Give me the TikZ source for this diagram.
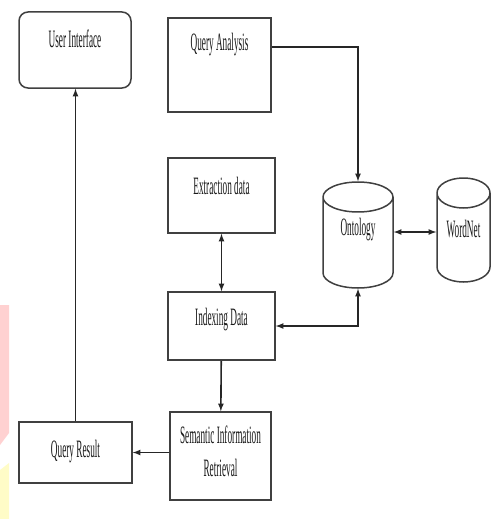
\documentclass[tikz,border=0pt]{standalone}
\usepackage{fontspec}
\setmainfont{Liberation Serif}
\usetikzlibrary{shapes.geometric}

\begin{document}
\begin{tikzpicture}[x=1pt,y=-1pt,
	box/.style={draw=black!75,line width=1.5pt,fill=white},
	txt/.style={anchor=center,font=\fontsize{25}{33}\selectfont,xscale=.37,align=center,text=black!90},
	db/.style={box,cylinder,shape border rotate=90,aspect=4.5,anchor=shape center},
	arr/.style={-latex,line width=1.6pt,black!85},
	dbl/.style={latex-latex,line width=1.6pt,black!85}]
	\useasboundingbox (0,0) rectangle (491,519);

	% marks on the left edge
	\fill[red!18] (0,305) -- (9,305) -- (9,433) -- (0,445) -- cycle;
	\fill[yellow!22] (0,470) -- (9,463) -- (9,519) -- (0,519) -- cycle;

	% boxes
	\node[box,rounded corners=9pt,minimum width=112pt,minimum height=76pt,label={[txt,yshift=-28pt]north:User Interface}] (ui) at (75,50) {};
	\node[box,minimum width=103pt,minimum height=94pt,label={[txt,yshift=-27pt]north:Query Analysis}] (qa) at (219.5,65) {};
	\node[box,minimum width=107pt,minimum height=75pt,label={[txt,yshift=-29pt]north:Extraction data}] (extr) at (221.5,195.5) {};
	\node[box,minimum width=107pt,minimum height=68pt,label={[txt,yshift=-28pt]north:Indexing Data}] (idx) at (221.5,326) {};
	\node[box,minimum width=101pt,minimum height=88pt,label={[txt,yshift=-40.5pt]north:Semantic Information\\Retrieval}] (sem) at (220.5,456) {};
	\node[box,minimum width=113pt,minimum height=61pt,label={[txt,yshift=-30.5pt]north:Query Result}] (qr) at (75.5,452.5) {};

	% data stores
	\node[db,minimum width=70pt,minimum height=106pt,label={[txt,yshift=-48pt]north:Ontology}] (onto) at (358,235) {};
	\node[db,minimum width=53pt,minimum height=104pt,label={[txt,yshift=-52pt]north:WordNet}] (wn) at (463.5,230) {};

	% arrows
	\draw[arr] ([yshift=18pt]qa.east) -| (onto.north);
	\draw[dbl] ([yshift=3pt]onto.shape center -| onto.east) -- ([yshift=3pt]onto.shape center -| wn.west);
	\draw[dbl] (extr) -- (idx);
	\draw[dbl] (onto.south) |- (idx.east);
	\draw[arr] (idx) -- (sem);
	\draw[arr] (sem.west |- qr) -- (qr.east);
	\draw[arr] (qr.north) -- (qr.north |- ui.south);
\end{tikzpicture}
\end{document}
